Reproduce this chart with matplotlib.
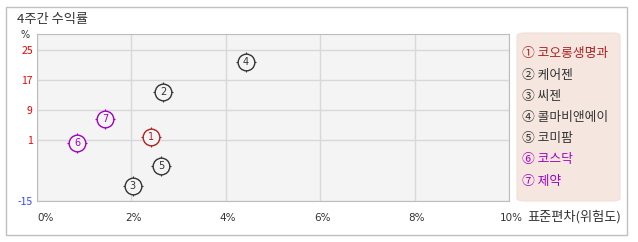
import matplotlib.pyplot as plt
from matplotlib.patches import Rectangle, FancyBboxPatch

plt.rcParams['font.family'] = ['Noto Sans CJK KR', 'DejaVu Sans']

names = ['코오롱생명과', '케어젠', '씨젠', '콜마비앤에이', '코미팜', '코스닥', '제약']
marks = ['①', '②', '③', '④', '⑤', '⑥', '⑦']
nums = ['1', '2', '3', '4', '5', '6', '7']
risk = [2.42, 2.67, 2.03, 4.43, 2.63, 0.85, 1.44]      # 표준편차 (%)
ret = [2.0, 13.9, -11.1, 21.6, -5.7, 0.2, 6.7]          # 4주간 수익률 (%)
colors = ['#aa2222', '#333333', '#333333', '#333333', '#333333', '#a000c0', '#a000c0']

yticks = [-15, 1, 9, 17, 25]
ytick_colors = ['#3344ff', '#ee0000', '#ee0000', '#ee0000', '#ee0000']
xticks = [0, 2, 4, 6, 8, 10]

W, H = 638, 242
fig = plt.figure(figsize=(W / 100, H / 100), dpi=100)

def fx(px):
    return px / W

def fy(py):
    return 1 - py / H

# outer frame
fig.patches.append(Rectangle((fx(6), fy(235)), fx(621), (235 - 7) / H,
                             transform=fig.transFigure, fill=False,
                             edgecolor='#c0c0c0', lw=1))
fig.text(fx(17), fy(19), '4주간 수익률', fontsize=9.5, color='#333333',
         ha='left', va='center')

ax = fig.add_axes([fx(37), fy(201), (509 - 37) / W, (201 - 34) / H])
ax.set_facecolor('#f4f4f4')
ax.set_xlim(0, 10)
ax.set_ylim(-15, 29.1)
ax.set_xticks(xticks)
ax.set_yticks(yticks)
ax.grid(True, color='#d8d8d8', lw=1)
ax.set_axisbelow(True)
for s in ax.spines.values():
    s.set_color('#bdbdbd')
ax.tick_params(length=0, pad=3)
ax.set_yticklabels([str(v) for v in yticks], fontsize=7.5)
for lab, c in zip(ax.get_yticklabels(), ytick_colors):
    lab.set_color(c)
ax.set_xticklabels([])
for v in xticks:
    ax.annotate(f'{v}%', (v, 0), xycoords=('data', 'axes fraction'),
                xytext=(0 if v == 0 else 1.5, -12), textcoords='offset points',
                ha='left' if v == 0 else 'center', va='center',
                fontsize=7.5, color='#333333', family='DejaVu Sans')
fig.text(fx(527), fy(217), '표준편차(위험도)', fontsize=9.5, color='#333333',
         ha='left', va='center')
fig.text(fx(25), fy(35), '%', fontsize=7, color='#333333', ha='center', va='center',
         family='DejaVu Sans')

for x, y, n, c in zip(risk, ret, nums, colors):
    ax.plot(x, y, marker='+', ms=15, mew=0.8, color=c, zorder=3)
    ax.plot(x, y, marker='o', ms=12, mew=1.0, mfc='#f4f4f4', mec=c, zorder=4)
    ax.text(x, y, n, ha='center', va='center', fontsize=7, color=c, zorder=5,
            family='DejaVu Sans')

# legend box
fig.patches.append(FancyBboxPatch((fx(517), fy(201)), (620 - 517) / W, (201 - 33) / H,
                                  boxstyle='round,pad=0,rounding_size=0.012',
                                  transform=fig.transFigure, facecolor='#f5e7e0',
                                  edgecolor='#efe0d8', lw=0.8))
for i, (m, nm, c) in enumerate(zip(marks, names, colors)):
    fig.text(fx(522), fy(54 + i * 21.2), f'{m} {nm}', fontsize=9.2, color=c,
             ha='left', va='center')

fig.savefig('out.png', dpi=100)
